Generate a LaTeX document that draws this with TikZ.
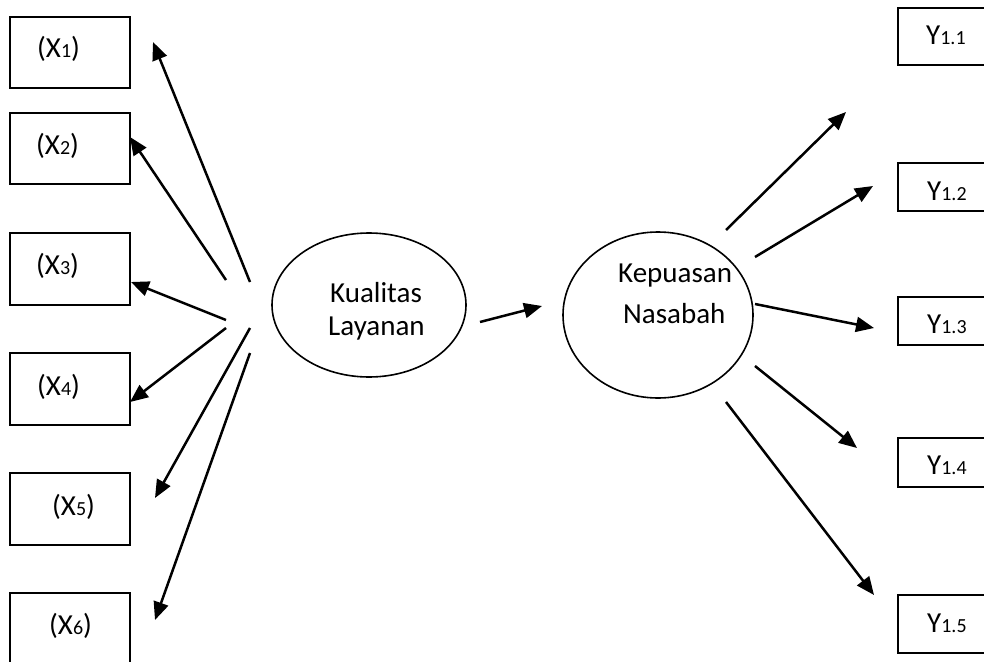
\documentclass[tikz,border=0pt]{standalone}
\usepackage{fontspec}
\setmainfont{Carlito}
\usetikzlibrary{arrows.meta,shapes.geometric}
\newcommand{\smd}[1]{{\fontsize{20}{24}\selectfont #1}}
\begin{document}
\begin{tikzpicture}[x=1pt,y=-1pt,
  box/.style={draw, line width=2pt, inner sep=0pt, minimum width=120pt},
  ybox/.style={draw, line width=2pt, inner sep=0pt, minimum width=100pt},
  oval/.style={draw, ellipse, line width=1.6pt, inner sep=0pt},
  lbl/.style={anchor=base west, inner sep=0pt, font=\fontsize{29}{35}\selectfont},
  arr/.style={-{Triangle[length=18pt,width=15pt]}, line width=2.5pt}]
\useasboundingbox (0,0) rectangle (984,661);
% left boxes
\node[box, minimum height=71pt] (bx1) at (70,52.5) {};
\node[box, minimum height=71pt] (bx2) at (70,148.5) {};
\node[box, minimum height=72pt] (bx3) at (70,269) {};
\node[box, minimum height=72pt] (bx4) at (70,389) {};
\node[box, minimum height=72pt] (bx5) at (70,509) {};
\node[box, minimum height=72pt] (bx6) at (70,629) {};
\node[lbl] (tx1) at (37,58) {(X\smd{1})};
\node[lbl] (tx2) at (36,154) {(X\smd{2})};
\node[lbl] (tx3) at (36,274) {(X\smd{3})};
\node[lbl] (tx4) at (37,395) {(X\smd{4})};
\node[lbl] (tx5) at (52,515) {(X\smd{5})};
\node[lbl] (tx6) at (49,634) {(X\smd{6})};
% right boxes
\node[ybox, minimum height=57pt] (by1) at (948,36.5) {};
\node[ybox, minimum height=48pt] (by2) at (948,187) {};
\node[ybox, minimum height=48pt] (by3) at (948,321) {};
\node[ybox, minimum height=49pt] (by4) at (948,462.5) {};
\node[ybox, minimum height=58pt] (by5) at (948,624) {};
\node[lbl] (ty1) at (926,45) {Y\smd{1.1}};
\node[lbl] (ty2) at (927,200) {Y\smd{1.2}};
\node[lbl] (ty3) at (927,333) {Y\smd{1.3}};
\node[lbl] (ty4) at (927,474) {Y\smd{1.4}};
\node[lbl] (ty5) at (927,632) {Y\smd{1.5}};
% ellipses
\node[oval, minimum width=194pt, minimum height=144pt] (kl) at (369,305) {};
\node[oval, minimum width=190pt, minimum height=166pt] (kn) at (658,315) {};
\node[lbl] (kl1) at (330,302) {Kualitas};
\node[lbl] (kl2) at (328,335) {Layanan};
\node[lbl] (kn1) at (618,282) {Kepuasan};
\node[lbl] (kn2) at (623,323) {Nasabah};
% arrow end points
\coordinate (a1s) at (250,282); \coordinate (a1e) at (153,42);
\coordinate (a2s) at (226,280); \coordinate (a2e) at (130,137);
\coordinate (a3s) at (226,320); \coordinate (a3e) at (131,282);
\coordinate (a4s) at (226,328); \coordinate (a4e) at (130,402);
\coordinate (a5s) at (250,328); \coordinate (a5e) at (155,498);
\coordinate (a6s) at (250,353); \coordinate (a6e) at (155,620);
\coordinate (ms) at (480,322); \coordinate (me) at (542,306);
\coordinate (r1s) at (726,230); \coordinate (r1e) at (846,112);
\coordinate (r2s) at (755,257); \coordinate (r2e) at (873,186);
\coordinate (r3s) at (755,304); \coordinate (r3e) at (874,328);
\coordinate (r4s) at (755,366); \coordinate (r4e) at (857,448);
\coordinate (r5s) at (726,402); \coordinate (r5e) at (874,595);
\draw[arr] (a1s) -- (a1e);
\draw[arr] (a2s) -- (a2e);
\draw[arr] (a3s) -- (a3e);
\draw[arr] (a4s) -- (a4e);
\draw[arr] (a5s) -- (a5e);
\draw[arr] (a6s) -- (a6e);
\draw[arr] (ms) -- (me);
\draw[arr] (r1s) -- (r1e);
\draw[arr] (r2s) -- (r2e);
\draw[arr] (r3s) -- (r3e);
\draw[arr] (r4s) -- (r4e);
\draw[arr] (r5s) -- (r5e);
\end{tikzpicture}
\end{document}
